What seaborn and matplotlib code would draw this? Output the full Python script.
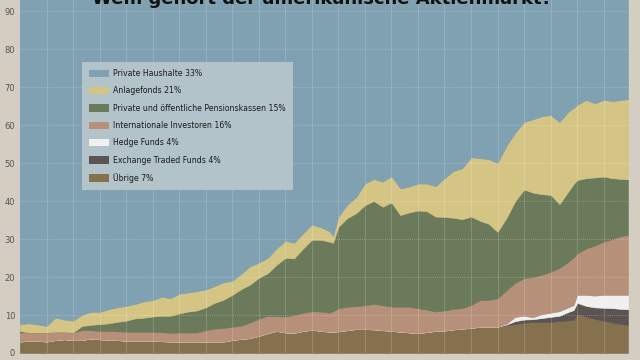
import matplotlib
matplotlib.use("Agg")
import matplotlib.pyplot as plt
from matplotlib.patches import Patch
import numpy as np
import seaborn as sns

years = [1945, 1946, 1947, 1948, 1949, 1950, 1951, 1952, 1953, 1954, 1955, 1956,
         1957, 1958, 1959, 1960, 1961, 1962, 1963, 1964, 1965, 1966, 1967, 1968,
         1969, 1970, 1971, 1972, 1973, 1974, 1975, 1976, 1977, 1978, 1979, 1980,
         1980.4, 1981, 1982, 1983, 1984, 1985, 1986, 1987, 1988, 1989, 1990, 1991,
         1992, 1993, 1994, 1995, 1996, 1997, 1998, 1999, 2000, 2001, 2002, 2003,
         2004, 2005, 2006, 2007, 2007.6, 2008, 2009, 2010, 2011, 2012, 2013, 2013.75]

uebrige = [3.0, 3.2, 3.2, 3.0, 3.4, 3.6, 3.4, 3.4, 3.8, 3.6, 3.5, 3.4,
           3.2, 3.2, 3.2, 3.2, 3.1, 3.0, 3.0, 3.0, 3.0, 3.0, 3.0, 3.0,
           3.4, 3.7, 3.9, 4.5, 5.2, 5.8, 5.4, 5.3, 5.8, 6.1, 5.8, 5.6,
           5.6, 5.7, 6.0, 6.3, 6.3, 6.2, 6.0, 5.8, 5.6, 5.4, 5.2, 5.5,
           5.8, 5.9, 6.2, 6.4, 6.6, 6.9, 6.9, 6.9, 7.3, 7.6, 8.0, 8.1,
           8.2, 8.2, 8.4, 8.6, 8.7, 10.3, 9.6, 9.0, 8.5, 8.0, 7.6, 7.4]

etf = [0] * 56 + [0.2, 0.8, 0.8, 0.8, 1.0, 1.3, 1.4, 2.2, 2.6, 2.9, 2.8, 3.0, 3.4, 3.8, 4.0, 4.1]

hedge = [0] * 56 + [0.2, 1.1, 1.0, 0.5, 1.0, 1.1, 1.2, 1.2, 1.3, 2.1, 2.9, 3.1, 3.4, 3.5, 3.7, 3.8]

international = [2.4, 2.2, 2.2, 2.4, 2.2, 2.0, 2.0, 2.6, 2.2, 2.2, 2.3, 2.3,
                 2.4, 2.4, 2.4, 2.4, 2.4, 2.3, 2.4, 2.4, 2.4, 3.0, 3.4, 3.6,
                 3.5, 3.5, 4.1, 4.5, 4.6, 3.9, 4.2, 4.7, 4.8, 4.9, 5.1, 5.0,
                 5.4, 6.1, 6.2, 6.0, 6.3, 6.7, 6.6, 6.4, 6.6, 6.8, 6.6, 5.9,
                 5.1, 5.3, 5.4, 5.4, 6.0, 7.0, 7.1, 7.5, 8.8, 9.0, 9.9, 10.6,
                 10.4, 10.8, 11.4, 12.0, 12.6, 10.9, 12.2, 13.2, 14.0, 14.7, 15.5, 15.8]

pension = [0.4, 0.0, 0.0, 0.0, 0.0, 0.0, 0.0, 1.1, 1.4, 1.8, 2.0, 2.5,
           2.9, 3.5, 3.7, 4.0, 4.3, 4.5, 5.0, 5.5, 5.8, 6.0, 6.8, 7.4,
           8.4, 9.6, 10.0, 10.8, 11.2, 13.5, 15.4, 14.9, 16.9, 18.8, 18.9, 18.7,
           18.0, 21.4, 23.3, 24.5, 26.3, 27.1, 25.9, 27.4, 24.1, 24.8, 25.7, 25.9,
           25.0, 24.6, 24.0, 23.4, 23.3, 20.9, 20.0, 17.5, 19.0, 21.5, 23.3, 22.2,
           21.2, 20.2, 16.8, 18.5, 19.3, 19.3, 18.5, 17.9, 17.1, 16.0, 15.0, 14.6]

anlagefonds = [1.8, 2.4, 2.1, 1.7, 3.7, 3.2, 3.1, 2.9, 3.4, 3.2, 3.7, 3.8,
               3.9, 3.8, 4.3, 4.3, 5.0, 4.6, 5.2, 5.0, 5.1, 4.7, 4.4, 4.6,
               3.7, 4.0, 4.8, 4.0, 4.0, 4.3, 4.5, 4.1, 4.0, 4.0, 3.3, 2.7,
               1.8, 2.7, 3.5, 4.2, 5.7, 5.8, 6.6, 6.9, 7.0, 6.8, 7.1, 7.3,
               8.0, 10.2, 12.3, 13.4, 15.6, 16.5, 17.0, 18.1, 19.0, 18.0, 17.8, 19.3,
               20.5, 21.0, 21.6, 21.0, 20.0, 19.8, 20.6, 19.5, 20.2, 20.3, 20.8, 21.1]

private = [92.4, 92.2, 92.5, 92.9, 90.7, 91.2, 91.5, 90.0, 89.2, 89.2, 88.5, 88.0,
           87.6, 87.1, 86.4, 86.1, 85.2, 85.6, 84.4, 84.1, 83.7, 83.3, 82.4, 81.4,
           81.0, 79.2, 77.2, 76.2, 75.0, 72.5, 70.5, 71.0, 68.5, 66.2, 66.9, 68.0,
           69.2, 64.1, 61.0, 59.0, 55.4, 54.2, 54.9, 53.5, 56.7, 56.2, 55.4, 55.4,
           56.1, 54.0, 52.1, 51.4, 48.5, 48.7, 49.0, 50.0, 45.5, 42.0, 39.2, 38.5,
           37.7, 37.4, 39.2, 36.5, 35.5, 34.7, 33.4, 34.3, 33.4, 33.7, 33.4, 33.2]

labels = ["Private Haushalte 33%", "Anlagefonds 21%",
          "Private und öffentliche Pensionskassen 15%", "Internationale Investoren 16%",
          "Hedge Funds 4%", "Exchange Traded Funds 4%", "Übrige 7%"]
colors = ["#7fa1b1", "#d5c584", "#6b7a5a", "#b69079", "#f0f0f0", "#5b5453", "#86714f"]
title = "Wem gehört der amerikanische Aktienmarkt?"
yticks = [0, 10, 20, 30, 40, 50, 60, 70, 80, 90]

sns.set_theme(style="white")
plt.rcParams["font.family"] = ["DejaVu Sans"]

bg = "#d4cdc2"
fig = plt.figure(figsize=(6.4, 3.6), dpi=100, facecolor=bg)
ax = fig.add_axes([20 / 640, 7 / 360, 608 / 640, 353 / 360])
ax.set_facecolor(colors[0])

stack = [uebrige, etf, hedge, international, pension, anlagefonds, private]
stack_colors = colors[::-1]
polys = ax.stackplot(years, *stack, colors=stack_colors, linewidth=0.4)
for p, c in zip(polys, stack_colors):
    p.set_edgecolor(c)

ax.set_xlim(1945, 2013.75)
ax.set_ylim(0, 92.9)
ax.set_yticks(yticks)
ax.set_yticklabels([str(v) for v in yticks], fontsize=6, color="#555555")
ax.tick_params(axis="y", length=0, pad=3.5)
ax.set_xticks([])
for s in ax.spines.values():
    s.set_visible(False)

for v in yticks[1:]:
    ax.axhline(v, color="white", alpha=0.35, lw=0.6, ls=(0, (1, 1.5)), zorder=3)
for yr in range(1948, 2013, 3):
    ax.axvline(yr, color="white", alpha=0.2, lw=0.6, zorder=3)

handles = [Patch(facecolor=c, edgecolor="none", label=l) for c, l in zip(colors, labels)]
leg = ax.legend(handles=handles, loc="upper left", bbox_to_anchor=(82 / 640, 1 - 62 / 360),
                bbox_transform=fig.transFigure, frameon=True, fancybox=False, framealpha=1,
                facecolor="#b2c3ca", edgecolor="none", fontsize=5.6, handlelength=2.6,
                handleheight=1.1, labelspacing=1.07, borderpad=0.9, handletextpad=0.5,
                borderaxespad=0)
for t in leg.get_texts():
    t.set_color("#1a1a1a")
leg.set_zorder(5)

fig.text(0.503, 1 - 3.5 / 360, title, ha="center", va="baseline", fontsize=13,
         fontweight="bold", color="#111111")

fig.savefig("out.png", dpi=100, facecolor=bg)
